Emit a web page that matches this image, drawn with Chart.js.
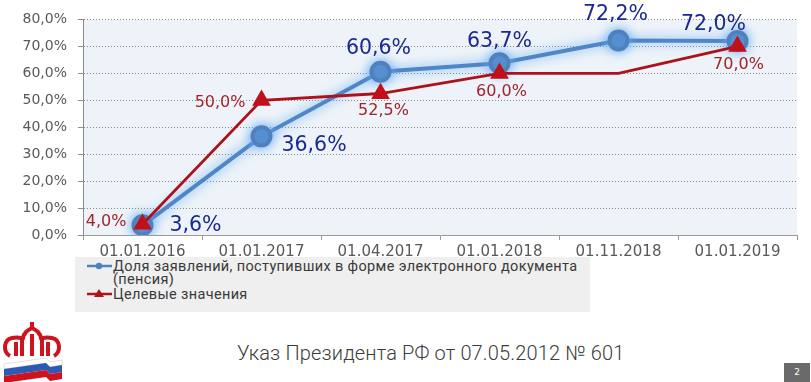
<!DOCTYPE html>
<html>
<head>
<meta charset="utf-8">
<script src="https://cdn.jsdelivr.net/npm/chart.js@4"></script>
<style>
  body { margin: 0; background: #fff; width: 811px; height: 382px; position: relative; overflow: hidden; }
  #chart-box { position: absolute; left: 0; top: 0; width: 811px; height: 264px; }
  #legend { position: absolute; left: 75px; top: 257px; width: 515px; height: 55px; background: #efefef;
    font-family: Roboto, sans-serif; font-size: 14.5px; color: #3a3a3a; line-height: 13px; }
  .leg-item { position: absolute; left: 12px; display: flex; align-items: flex-start; }
  .leg-item svg { flex: none; margin-top: -1px; }
  .leg-item span { margin-left: 1px; letter-spacing: 0.35px; }
  #footer { position: absolute; left: 237px; top: 341px; font-family: Roboto, sans-serif; font-weight: 300;
    font-size: 20px; letter-spacing: 0.15px; color: #3c3c3c; white-space: nowrap; }
  #page { position: absolute; left: 784px; top: 363px; width: 26px; height: 19px; background: #6a6a6a;
    color: #fff; font: 9px "DejaVu Sans", sans-serif; text-align: center; line-height: 19px; }
  #logo { position: absolute; left: 0px; top: 318px; }
</style>
</head>
<body>
<div id="chart-box"><canvas id="mainChart"></canvas></div>

<div id="legend">
  <div class="leg-item" style="top:3px">
    <svg width="25" height="14"><line x1="0" y1="7" x2="25" y2="7" stroke="#4f81bd" stroke-width="2.5"/><circle cx="12" cy="7" r="3.2" fill="#4f81bd"/></svg>
    <span id="leg-blue"></span>
  </div>
  <div class="leg-item" style="top:31px">
    <svg width="25" height="14"><line x1="0" y1="7" x2="25" y2="7" stroke="#b0121b" stroke-width="2.5"/><path d="M12 2 L17 10 L7 10 Z" fill="#b0121b"/></svg>
    <span id="leg-red"></span>
  </div>
</div>

<svg id="logo" width="64" height="64" viewBox="0 0 64 64">
  <g fill="none" stroke="#d0121f" stroke-width="4">
    <path d="M10 38 C3 34 3 22 12 20 C18 19 22 20 24 22"/>
    <path d="M54 38 C61 34 61 22 52 20 C46 19 42 20 40 22"/>
    <path d="M22 38 L22 22 C24 14 28 12 32 10 C36 12 40 14 42 22 L42 38"/>
  </g>
  <rect x="30" y="4" width="4" height="8" fill="#d0121f"/>
  <rect x="14" y="24" width="4" height="14" fill="#d0121f"/>
  <rect x="46" y="24" width="4" height="14" fill="#d0121f"/>
  <rect x="30" y="16" width="4" height="22" fill="#d0121f"/>
  <path d="M4 46 L46 40 L50 44 L62 42 L62 47 L50 49 L46 45 L4 51 Z" fill="#fff" stroke="#ccc" stroke-width="0.6"/>
  <path d="M4 51 L46 45 L50 49 L62 47 L62 54 L50 56 L46 52 L4 58 Z" fill="#2d5ab5"/>
  <path d="M4 58 L46 52 L50 56 L62 54 L62 61 L50 63 L46 59 L4 65 Z" fill="#d0121f"/>
</svg>

<div id="footer">Указ Президента РФ от 07.05.2012 № 601</div>
<div id="page">2</div>

<script>
// Data
const categories = ["01.01.2016", "01.01.2017", "01.04.2017", "01.01.2018", "01.11.2018", "01.01.2019"];
const electronicShare = [3.6, 36.6, 60.6, 63.7, 72.2, 72.0];
const targetValues = [4.0, 50.0, 52.5, 60.0, 60.0, 70.0];
const targetShown = [true, true, true, true, false, true];
const seriesNames = [
  "Доля заявлений, поступивших в форме электронного документа (пенсия)",
  "Целевые значения"
];
const yTicks = [0, 10, 20, 30, 40, 50, 60, 70, 80];

document.getElementById("leg-blue").innerHTML = seriesNames[0].replace(" (", "<br>(");
document.getElementById("leg-red").textContent = seriesNames[1];

function pct(v) {
  return v.toFixed(1).replace(".", ",") + "%";
}

// Label placement per point: [align, dx, dy] relative to the point
const blueLabelPos = [
  ["left", 27, 0], ["left", 20, 9], ["center", -2, -23],
  ["center", 0, -22], ["center", -3, -26], ["center", -24, -16],
];
const redLabelPos = [
  ["right", -16, -2], ["right", -16, 3], ["center", 3, 17],
  ["center", 2, 19], null, ["center", 1, 18],
];

// Plot background
const plotBg = {
  id: "plotBg",
  beforeDraw(chart) {
    const { ctx, chartArea: a } = chart;
    ctx.save();
    ctx.fillStyle = "#edf3f8";
    ctx.fillRect(a.left, a.top, a.right - a.left, a.bottom - a.top);
    ctx.restore();
  },
};

// Glow under the blue line
const glow = {
  id: "glow",
  beforeDatasetDraw(chart, args) {
    if (args.index !== 0) return;
    const ctx = chart.ctx;
    ctx.save();
    ctx.shadowColor = "rgba(100, 170, 245, 1)";
    ctx.shadowBlur = 11;
  },
  afterDatasetDraw(chart, args) {
    if (args.index !== 0) return;
    chart.ctx.restore();
  },
};

// Value labels
const valueLabels = {
  id: "valueLabels",
  afterDatasetsDraw(chart) {
    const ctx = chart.ctx;
    const sets = [
      { meta: chart.getDatasetMeta(0), vals: electronicShare, pos: blueLabelPos,
        font: '20.5px "DejaVu Sans"', color: "#1a2a90" },
      { meta: chart.getDatasetMeta(1), vals: targetValues, pos: redLabelPos,
        font: '16px "DejaVu Sans"', color: "#a3232b" },
    ];
    ctx.save();
    ctx.textBaseline = "middle";
    sets.forEach((s) => {
      ctx.font = s.font;
      ctx.fillStyle = s.color;
      s.meta.data.forEach((pt, i) => {
        const p = s.pos[i];
        if (!p) return;
        ctx.textAlign = p[0];
        ctx.fillText(pct(s.vals[i]), pt.x + p[1], pt.y + p[2]);
      });
    });
    ctx.restore();
  },
};

new Chart(document.getElementById("mainChart"), {
  type: "line",
  data: {
    labels: categories,
    datasets: [
      {
        label: seriesNames[0],
        data: electronicShare,
        borderColor: "#4f86c6",
        borderWidth: 4,
        pointBackgroundColor: "#4f81bd",
        pointBorderColor: "#4f81bd",
        pointRadius: 9,
        pointStyle: "circle",
        tension: 0,
        order: 2,
      },
      {
        label: seriesNames[1],
        data: targetValues,
        borderColor: "#ad111b",
        borderWidth: 2.8,
        pointBackgroundColor: "#c0101a",
        pointBorderColor: "#c0101a",
        pointRadius: targetShown.map((s) => (s ? 8 : 0)),
        pointStyle: "triangle",
        tension: 0,
        order: 1,
      },
    ],
  },
  options: {
    responsive: true,
    maintainAspectRatio: false,
    animation: false,
    layout: { padding: { top: 4, right: 14, left: 0, bottom: 0 } },
    plugins: {
      legend: { display: false },
      tooltip: { enabled: false },
    },
    scales: {
      x: {
        offset: true,
        grid: {
          display: true,
          offset: true,
          drawOnChartArea: false,
          color: "#9a9a9a",
          tickLength: 5,
        },
        border: { display: true, color: "#9a9a9a", width: 1 },
        ticks: {
          color: "#595959",
          font: { family: "DejaVu Sans", size: 15 },
          padding: 3,
          maxRotation: 0,
        },
      },
      y: {
        min: 0,
        max: 80,
        afterFit(scale) { scale.width = 83; },
        afterBuildTicks(scale) { scale.ticks = yTicks.map((v) => ({ value: v })); },
        grid: {
          color: "#8a8a8a",
          tickColor: "#8c8c8c",
          tickLength: 5,
          tickBorderDash: [],
        },
        border: { display: true, color: "#8c8c8c", width: 1, dash: [1, 2] },
        ticks: {
          color: "#595959",
          font: { family: "DejaVu Sans", size: 14 },
          padding: 11,
          callback: (v) => pct(v),
        },
      },
    },
  },
  plugins: [plotBg, glow, valueLabels],
});
</script>
</body>
</html>
